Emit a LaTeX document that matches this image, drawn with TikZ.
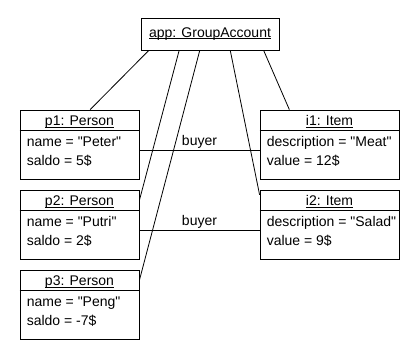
\documentclass[tikz,border=0pt]{standalone}
\usepackage{fontspec}
\setmainfont{Liberation Sans}
\usetikzlibrary{positioning,calc}

\newcommand{\objname}[1]{\underline{\smash{#1}}}

\tikzset{
  object/.style={draw, line width=0.8pt, minimum height=69pt, inner sep=0pt},
  person/.style={object, minimum width=119pt},
  item/.style={object, minimum width=139pt},
  objtitle/.style={anchor=base, inner sep=0pt},
  attrs/.style={anchor=north west, align=left, inner sep=0pt},
  link/.style={line width=0.8pt}
}

\begin{document}
\begin{tikzpicture}[x=1pt, y=-1pt, font=\fontsize{14}{19}\selectfont]
  \useasboundingbox (0,0) rectangle (420,360);

  % the account
  \node[draw, line width=0.8pt, minimum width=138pt, minimum height=32pt] (app) at (210,34) {};
  \node[objtitle] (app-title) at ([yshift=-3pt]app.center) {\objname{app: GroupAccount}};

  % persons and items
  \node[person] (p1) at (79.5,144.5) {};
  \node[person] (p2) at (79.5,224.5) {};
  \node[person] (p3) at (79.5,304.5) {};
  \node[item] (i1) at (329.5,144.5) {};
  \node[item] (i2) at (329.5,224.5) {};

  \foreach \o/\t in {p1/p1: Person, p2/p2: Person, p3/p3: Person, i1/i1: Item, i2/i2: Item} {
    \node[objtitle] (\o-title) at ([yshift=-16pt]\o.north) {\objname{\t}};
    \draw[link] ([yshift=-21pt]\o.north west) -- ([yshift=-21pt]\o.north east);
  }

  \node[attrs] (p1-attrs) at ([xshift=7pt, yshift=-27pt]p1.north west) {name = \textquotedbl Peter\textquotedbl\\saldo = 5\$};
  \node[attrs] (p2-attrs) at ([xshift=7pt, yshift=-27pt]p2.north west) {name = \textquotedbl Putri\textquotedbl\\saldo = 2\$};
  \node[attrs] (p3-attrs) at ([xshift=7pt, yshift=-27pt]p3.north west) {name = \textquotedbl Peng\textquotedbl\\saldo = -7\$};
  \node[attrs] (i1-attrs) at ([xshift=7pt, yshift=-27pt]i1.north west) {description = \textquotedbl Meat\textquotedbl\\value = 12\$};
  \node[attrs] (i2-attrs) at ([xshift=7pt, yshift=-27pt]i2.north west) {description = \textquotedbl Salad\textquotedbl\\value = 9\$};

  % links from the account
  \draw[link] (app.195) -- (p1.73);
  \draw[link] (app.208) -- (p2.22);
  \draw[link] (app.238) -- (p3.22);
  \draw[link] (app.321) -- (i2.157);
  \draw[link] (app.343) -- (i1.139);

  % buyer links
  \draw[link] ([yshift=-5.5pt]p1.east) -- node[above, inner sep=1.5pt] (buyer1) {buyer} ([yshift=-5.5pt]i1.west);
  \draw[link] ([yshift=-5.5pt]p2.east) -- node[above, inner sep=1.5pt] (buyer2) {buyer} ([yshift=-5.5pt]i2.west);
\end{tikzpicture}
\end{document}
